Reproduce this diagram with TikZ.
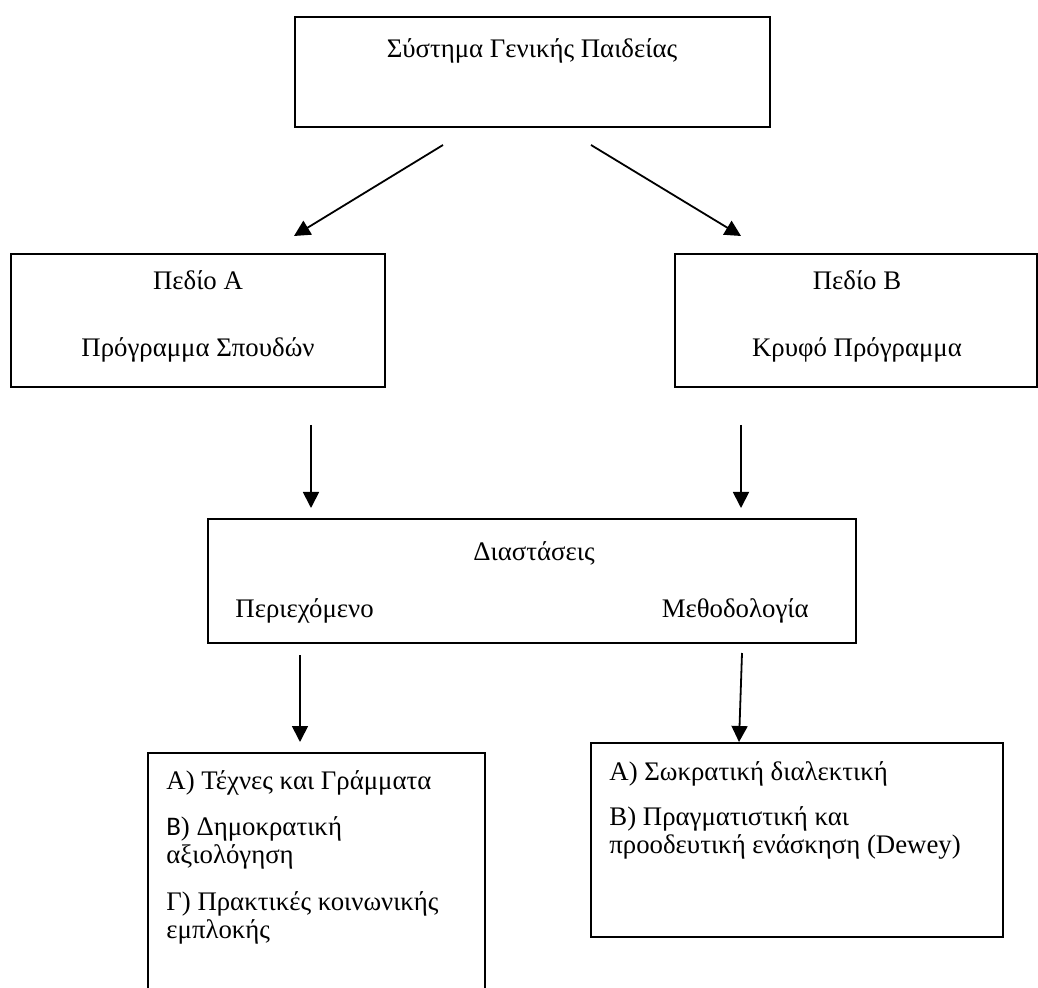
\documentclass[tikz,border=0pt]{standalone}
\usepackage{fontspec}
\setmainfont{Liberation Serif}
\newfontfamily\sansB{Carlito}
\usetikzlibrary{arrows.meta}
\begin{document}
\begin{tikzpicture}[x=0.5pt,y=-0.5pt,
  box/.style={draw,line width=1pt,inner sep=0pt,fill=none},
  txt/.style={inner sep=0pt,font=\fontsize{13.4}{15}\selectfont},
  arr/.style={line width=0.9pt,-{Triangle[width=8pt,length=8pt]}}]
\useasboundingbox (0,0) rectangle (1038,988);
\clip (0,0) rectangle (1038,988);
% boxes
\node[box,minimum width=237.5pt,minimum height=55pt] (T) at (532.5,72) {};
\node[box,minimum width=187pt,minimum height=66.5pt] (A) at (198,320.5) {};
\node[box,minimum width=181pt,minimum height=66.5pt] (B) at (856,320.5) {};
\node[box,minimum width=324pt,minimum height=62pt] (D) at (532,581) {};
\node[box,minimum width=168.5pt,minimum height=130pt] (L) at (316.5,883) {};
\node[box,minimum width=206pt,minimum height=97pt] (R) at (797,840) {};
% texts
\node[txt,anchor=base] (t1) at (532,58) {Σύστημα Γενικής Παιδείας};
\node[txt,anchor=base] (a1) at (198,290) {Πεδίο Α};
\node[txt,anchor=base] (a2) at (198,357) {Πρόγραμμα Σπουδών};
\node[txt,anchor=base] (b1) at (857,290) {Πεδίο Β};
\node[txt,anchor=base] (b2) at (857,357) {Κρυφό Πρόγραμμα};
\node[txt,anchor=base] (d1) at (534,560) {Διαστάσεις};
\node[txt,anchor=base west] (d2) at (235,617) {Περιεχόμενο};
\node[txt,anchor=base east] (d3) at (809,617) {Μεθοδολογία};
\node[txt,anchor=base west] (l1) at (166,789) {Α) Τέχνες και Γράμματα};
\node[txt,anchor=base west] (l2) at (166,835) {{\sansB B}) Δημοκρατική};
\node[txt,anchor=base west] (l3) at (166,863) {αξιολόγηση};
\node[txt,anchor=base west] (l4) at (166,910) {Γ) Πρακτικές κοινωνικής};
\node[txt,anchor=base west] (l5) at (166,938) {εμπλοκής};
\node[txt,anchor=base west] (r1) at (609,780) {Α) Σωκρατική διαλεκτική};
\node[txt,anchor=base west] (r2) at (609,825) {Β) Πραγματιστική και};
\node[txt,anchor=base west] (r3) at (609,853) {προοδευτική ενάσκηση (Dewey)};
% arrow end points
\coordinate (c1s) at (443,145); \coordinate (c1e) at (294,236);
\coordinate (c2s) at (591,145); \coordinate (c2e) at (741,236);
\coordinate (c3s) at (311,425); \coordinate (c3e) at (311,508);
\coordinate (c4s) at (741,425); \coordinate (c4e) at (741,508);
\coordinate (c5s) at (300,655); \coordinate (c5e) at (300,742);
\coordinate (c6s) at (742,653); \coordinate (c6e) at (739,742);
\draw[arr] (c1s) -- (c1e);
\draw[arr] (c2s) -- (c2e);
\draw[arr] (c3s) -- (c3e);
\draw[arr] (c4s) -- (c4e);
\draw[arr] (c5s) -- (c5e);
\draw[arr] (c6s) -- (c6e);
\end{tikzpicture}
\end{document}
